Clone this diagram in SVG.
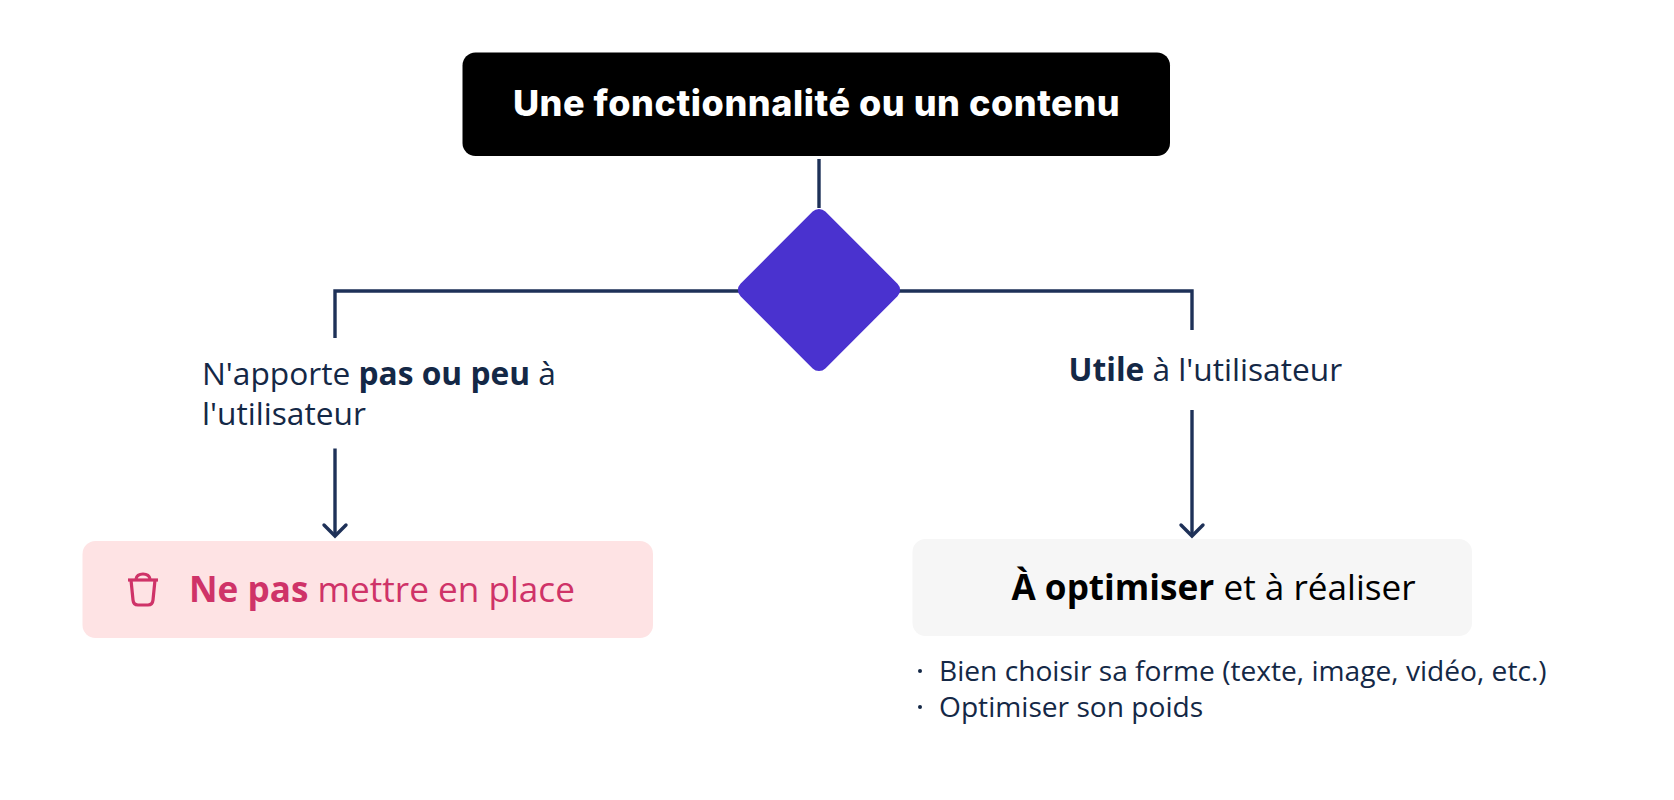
<svg xmlns="http://www.w3.org/2000/svg" width="1674" height="800" viewBox="0 0 1674 800">
<defs>
<style>
.t{font-family:"Open Sans","Liberation Sans",sans-serif;}
.b{font-weight:700;}
.lab{font-size:31.7px;fill:#142846;}
.sm{font-size:28.15px;fill:#142846;}
.big{font-size:35.15px;}
.c{fill:none;stroke:#1e3158;stroke-width:3.4;}
</style>
</defs>
<rect width="1674" height="800" fill="#ffffff"/>
<g id="connectors">
<path class="c" d="M819 159V208"/>
<path class="c" d="M335 338V291H1192V330"/>
<path class="c" d="M335 448.500V536"/>
<path class="c" d="M324 525L335 536L346 525" stroke-linecap="round"/>
<path class="c" d="M1192 410V536"/>
<path class="c" d="M1181 525L1192 536L1203 525" stroke-linecap="round"/>
</g>
<g id="node-top">
<rect x="462.500" y="52.500" width="707.500" height="103.500" rx="13" fill="#000000"/>
<text x="816.500" y="116" text-anchor="middle" font-family="Inter,'Liberation Sans',sans-serif" font-weight="800" font-size="36" letter-spacing="0.55" fill="#ffffff">Une fonctionnalité ou un contenu</text>
</g>
<g id="node-decision">
<rect x="-60" y="-60" width="120" height="120" rx="9" transform="translate(819 290) rotate(45)" fill="#4a32cf"/>
</g>
<g id="label-no">
<text class="t lab" x="202" y="385">N'apporte <tspan class="b">pas ou peu</tspan> à</text>
<text class="t lab" x="202" y="425">l'utilisateur</text>
</g>
<g id="label-yes">
<text class="t lab" x="1068.500" y="381"><tspan class="b">Utile</tspan> à l'utilisateur</text>
</g>
<g id="node-no">
<rect x="82.500" y="541" width="570.500" height="97" rx="13" fill="#fee3e4"/>
<g fill="none" stroke="#cf3368" stroke-width="3.200">
<path d="M128 580H158"/>
<path d="M131 580L133 600Q133.500 605 138 605H148Q152.500 605 153 600L155 580"/>
<path d="M136 579Q137 574 143 574Q149 574 150 579"/>
</g>
<text class="t big" x="189" y="602" fill="#cf3368"><tspan class="b">Ne pas</tspan> mettre en place</text>
</g>
<g id="node-yes">
<rect x="912.500" y="539" width="559.500" height="97" rx="13" fill="#f6f6f6"/>
<text class="t big" x="1011.500" y="600" fill="#000000"><tspan class="b">À optimiser</tspan> et à réaliser</text>
</g>
<g id="list">
<text class="t sm" x="939" y="681">Bien choisir sa forme (texte, image, vidéo, etc.)</text>
<text class="t sm" x="939" y="717">Optimiser son poids</text>
<circle cx="920" cy="671" r="2" fill="#142846"/>
<circle cx="920" cy="707" r="2" fill="#142846"/>
</g>
</svg>
